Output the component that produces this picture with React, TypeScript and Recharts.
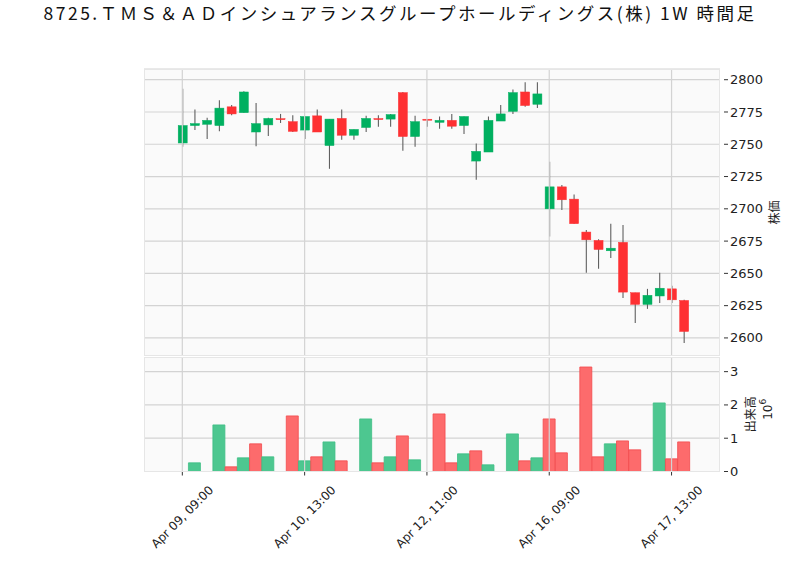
import React from 'react';
import {
  ComposedChart,
  Bar,
  Cell,
  XAxis,
  YAxis,
  CartesianGrid,
  ReferenceLine,
} from 'recharts';

// 1時間足, 6本/日
const days = ['Apr 09', 'Apr 10', 'Apr 11', 'Apr 12', 'Apr 15', 'Apr 16', 'Apr 17'];
const hours = ['09:00', '10:00', '11:00', '12:00', '13:00', '14:00'];

const open = [
  2751, 2764.5, 2765.5, 2764.5, 2779, 2774.5, 2759.5, 2765, 2769.8, 2767.5,
  2761, 2772, 2749, 2770, 2757, 2763, 2769.9, 2769.5, 2790, 2756,
  2769.4, 2767, 2768.5, 2764.5, 2737, 2744, 2768, 2775.5, 2790.5, 2781,
  2700, 2717, 2707.5, 2682, 2675.5, 2667.5, 2674, 2635, 2626, 2632.5,
  2638, 2629,
];
const high = [
  2793, 2777, 2770.5, 2784, 2780.5, 2791, 2782, 2770.5, 2773.5, 2772.5,
  2771.5, 2777, 2769.5, 2777, 2761.5, 2772, 2772.5, 2773.5, 2790.5, 2772,
  2769.5, 2771.5, 2773.5, 2771.5, 2750.5, 2771.5, 2780.5, 2792.5, 2798, 2798,
  2736.5, 2718.5, 2711, 2683.5, 2676.5, 2688.5, 2687.5, 2635, 2638, 2650.5,
  2640.5, 2629.5,
];
const low = [
  2748, 2761, 2754, 2760, 2772.5, 2774.5, 2748.5, 2756.5, 2766.5, 2759.5,
  2754, 2759.5, 2731, 2753.5, 2753.5, 2759.5, 2763.5, 2763.5, 2745, 2748,
  2763.5, 2762, 2762, 2758, 2722.5, 2744, 2768, 2773.5, 2779, 2778,
  2678.5, 2699, 2688.5, 2650.5, 2653.5, 2662, 2631, 2611.5, 2622.5, 2627,
  2627, 2596,
];
const close = [
  2764.5, 2766, 2768.5, 2778, 2773.5, 2790.5, 2766, 2770, 2769.5, 2760,
  2771.5, 2759.5, 2769.5, 2757, 2761.5, 2770, 2769.5, 2773, 2756, 2767.5,
  2769, 2768.5, 2764, 2771.5, 2744.5, 2768.5, 2773.5, 2790, 2780, 2789,
  2717, 2707, 2688.5, 2676, 2668.5, 2669.5, 2635.5, 2626, 2633, 2638.5,
  2629.5, 2605,
];
// 出来高 (x 10^6)
const volume = [
  0, 0.26, 0, 1.4, 0.14, 0.41, 0.83, 0.44, 0, 1.67,
  0.32, 0.44, 0.89, 0.32, 0, 1.58, 0.26, 0.44, 1.07, 0.35,
  0, 1.73, 0.26, 0.53, 0.62, 0.2, 0, 1.13, 0.32, 0.41,
  1.58, 0.56, 0, 3.14, 0.44, 0.83, 0.92, 0.65, 0, 2.06,
  0.38, 0.89,
];

const priceTicks = [2600, 2625, 2650, 2675, 2700, 2725, 2750, 2775, 2800];
const volumeTicks = [0, 1, 2, 3];

const labels = days.flatMap((d) => hours.map((h) => `${d}, ${h}`));

const data = labels.map((t, i) => ({
  t,
  range: [low[i], high[i]],
  open: open[i],
  high: high[i],
  low: low[i],
  close: close[i],
  vol: volume[i],
  volUp: i === 0 || close[i] >= close[i - 1],
}));

const UP = '#00b060';
const DOWN = '#fe3032';
const VOL_UP = '#4dc790';
const VOL_DOWN = '#fd6b6c';
const GRID = '#d3d3d3';
const FONT = '"DejaVu Sans", sans-serif';
const CJK = '"Noto Sans CJK JP", sans-serif';

const PAD = { left: 32.2, right: 30.1 };

const Candle = (props: any) => {
  const { x, y, width, height, payload } = props;
  const { open: o, close: c, high: h, low: l } = payload;
  const top = Math.min(y, y + height);
  const span = Math.abs(height);
  const k = span / (h - l);
  const color = c >= o ? UP : DOWN;
  const cx = x + width / 2;
  const bodyTop = top + (h - Math.max(o, c)) * k;
  const bodyH = Math.max(Math.abs(o - c) * k, 1);
  const bw = 9;
  return (
    <g>
      <line x1={cx} x2={cx} y1={top} y2={top + span} stroke="#606060" strokeWidth={1.1} />
      <rect x={cx - bw / 2} y={bodyTop} width={bw} height={bodyH} fill={color} stroke={color} strokeWidth={0.5} />
    </g>
  );
};

// right axis: x is axis left + tickSize + tickMargin (8)
const YTick = (props: any) => {
  const { x, y, payload } = props;
  return (
    <g>
      <line x1={x - 4} x2={x} y1={y} y2={y} stroke="#333" strokeWidth={1} />
      <text x={x + 2} y={y} dy="0.35em" fontSize={13} fontFamily={FONT} fill="#222">
        {payload.value}
      </text>
    </g>
  );
};

const XTick = (props: any) => {
  const { x, y, payload } = props;
  const y0 = y - 8;
  const cy = y0 + 45.5;
  return (
    <g>
      <line x1={x} x2={x} y1={y0} y2={y0 + 4} stroke="#333" strokeWidth={1} />
      <text
        x={x}
        y={cy}
        textAnchor="middle"
        dominantBaseline="central"
        transform={`rotate(-45, ${x}, ${cy})`}
        fontSize={12}
        fontFamily={FONT}
        fill="#222"
      >
        {payload.value}
      </text>
    </g>
  );
};

const gridTicks = [0, 10, 20, 30, 40].map((i) => labels[i]);

const frame = (top: number, height: number): React.CSSProperties => ({
  position: 'absolute',
  left: 144,
  top,
  width: 576,
  height,
  boxSizing: 'border-box',
  border: '1px solid #e6e6e6',
  pointerEvents: 'none',
});

export default function App() {
  return (
    <div style={{ position: 'absolute', left: 0, top: 0, width: 800, height: 575, background: '#fff' }}>
      <div
        style={{
          position: 'absolute',
          left: 0,
          top: 0,
          width: 800,
          textAlign: 'center',
          fontFamily: CJK,
          fontSize: 17.5,
          letterSpacing: 2.5,
          lineHeight: '26px',
          color: '#111',
          whiteSpace: 'nowrap',
        }}
      >
        8725.ＴＭＳ＆ＡＤインシュアランスグループホールディングス(株) 1W 時間足
      </div>

      <div style={{ position: 'absolute', left: 0, top: 0 }}>
        <ComposedChart width={800} height={356} data={data} margin={{ top: 69, right: 0, bottom: 0, left: 144 }}>
          <CartesianGrid vertical={false} stroke={GRID} strokeWidth={1.2} fill="#fafafa" />
          <XAxis dataKey="t" type="category" hide padding={PAD} />
          <YAxis
            orientation="right"
            type="number"
            width={80}
            domain={[2586, 2808.3]}
            ticks={priceTicks}
            allowDataOverflow
            axisLine={false}
            tickLine={false}
            tick={<YTick />}
            label={(p: any) => {
              const vb = p.viewBox;
              const cx = vb.x + 53;
              const cy = vb.y + vb.height / 2;
              return (
                <text x={cx} y={cy} textAnchor="middle" dominantBaseline="central" transform={`rotate(-90, ${cx}, ${cy})`} fontSize={12} fontFamily={CJK} fill="#222">
                  株価
                </text>
              );
            }}
          />
          {gridTicks.map((t) => (
            <ReferenceLine key={t} x={t} stroke={GRID} strokeWidth={1.2} />
          ))}
          <Bar dataKey="range" barSize={9} shape={<Candle />} isAnimationActive={false} />
        </ComposedChart>
      </div>

      <div style={{ position: 'absolute', left: 0, top: 357 }}>
        <ComposedChart
          width={800}
          height={218}
          data={data}
          margin={{ top: 0, right: 0, bottom: 0, left: 144 }}
          barCategoryGap={0}
          barGap={0}
        >
          <CartesianGrid vertical={false} stroke={GRID} strokeWidth={1.2} fill="#fafafa" />
          <XAxis
            dataKey="t"
            type="category"
            height={103.5}
            padding={PAD}
            interval={9}
            axisLine={false}
            tickLine={false}
            tick={<XTick />}
          />
          <YAxis
            orientation="right"
            type="number"
            width={80}
            domain={[0, 3.44]}
            ticks={volumeTicks}
            allowDataOverflow
            axisLine={false}
            tickLine={false}
            tick={<YTick />}
            label={(p: any) => {
              const vb = p.viewBox;
              const cy = vb.y + vb.height / 2;
              const x1 = vb.x + 29;
              const x2 = vb.x + 48;
              const cy2 = cy - 5;
              return (
                <g>
                  <text x={x1} y={cy} textAnchor="middle" dominantBaseline="central" transform={`rotate(-90, ${x1}, ${cy})`} fontSize={12} fontFamily={CJK} fill="#222">
                    出来高
                  </text>
                  <text x={x2} y={cy2} textAnchor="middle" dominantBaseline="central" transform={`rotate(-90, ${x2}, ${cy2})`} fontSize={12} fontFamily={FONT} fill="#222">
                    10<tspan dy="-5" fontSize={9}>6</tspan>
                  </text>
                </g>
              );
            }}
          />
          {gridTicks.map((t) => (
            <ReferenceLine key={t} x={t} stroke={GRID} strokeWidth={1.2} />
          ))}
          <Bar dataKey="vol" isAnimationActive={false}>
            {data.map((d, i) => (
              <Cell key={i} fill={d.volUp ? VOL_UP : VOL_DOWN} stroke={d.volUp ? '#3fbf85' : '#f24a4c'} strokeWidth={0.8} />
            ))}
          </Bar>
        </ComposedChart>
      </div>

      <div style={frame(69, 287)} />
      <div style={frame(357, 114.5)} />
    </div>
  );
}
